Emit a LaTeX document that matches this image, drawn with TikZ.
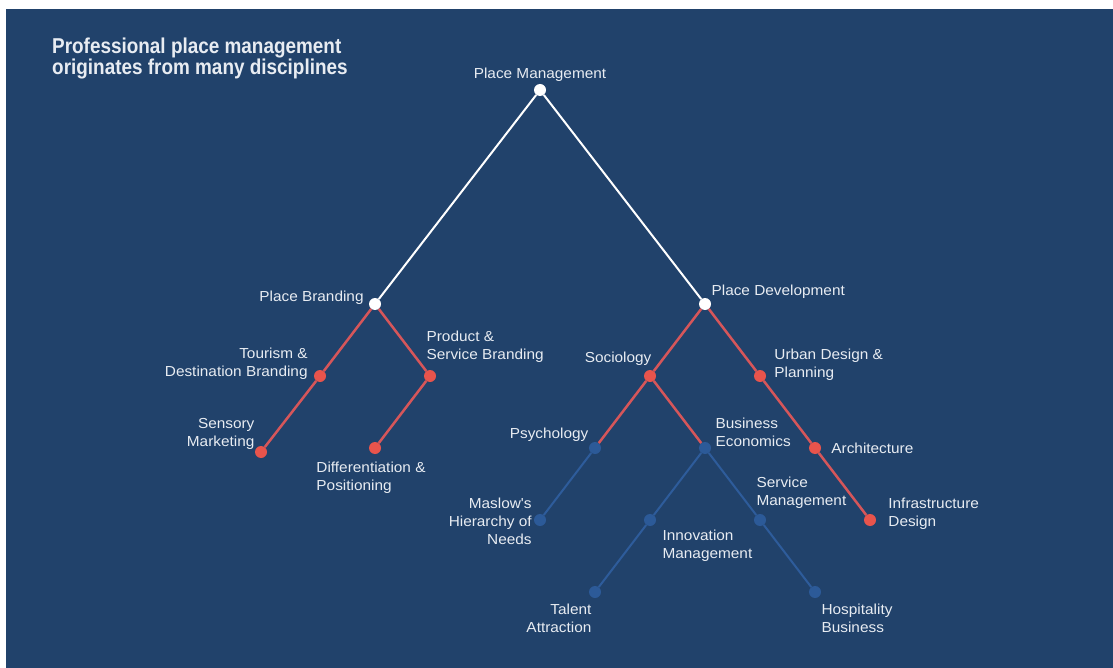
\documentclass[tikz,border=0pt]{standalone}
\usepackage{fontspec}
\usepackage{tikz}
\usetikzlibrary{positioning}
\setmainfont{Liberation Sans}
\newfontfamily\titlefont[FakeStretch=0.88]{Liberation Sans}
\newfontfamily\lblfont[FakeStretch=1.06]{Liberation Sans}
\definecolor{bgblue}{RGB}{33,66,107}
\definecolor{dotred}{RGB}{232,84,76}
\definecolor{linered}{RGB}{214,86,90}
\definecolor{dotblue}{RGB}{44,90,152}
\definecolor{lineblue}{RGB}{46,92,155}
\definecolor{labeltext}{RGB}{232,236,242}

\begin{document}
\begin{tikzpicture}[x=1pt,y=-1pt,on grid,node distance=72pt and 55pt,
		whitenode/.style={circle,fill=white,inner sep=0pt,minimum size=12pt},
		rednode/.style={circle,fill=dotred,inner sep=0pt,minimum size=12pt},
		bluenode/.style={circle,fill=dotblue,inner sep=0pt,minimum size=12pt},
		lbl/.style={text=labeltext,font=\lblfont\fontsize{14.5}{18}\selectfont,inner sep=2pt},
		whiteline/.style={draw=white,line width=2pt},
		redline/.style={draw=linered,line width=2.5pt},
		blueline/.style={draw=lineblue,line width=2pt}]
		\useasboundingbox (0,0) rectangle (1113,668);
		\fill[white] (0,0) rectangle (1113,668);
		\fill[bgblue] (6,9) rectangle (1113,668);

		\node[anchor=north west,text=labeltext,font=\titlefont\bfseries\fontsize{21.5}{21}\selectfont,align=left,inner sep=0pt] (title) at (52,38) {Professional place management\\originates from many disciplines};

		\node[whitenode,label={[lbl]90:Place Management}]										(pm)		at (540,90) {};
		\node[whitenode,below left=214pt and 165pt of pm,label={[lbl,xshift=-3pt,yshift=6pt]180:Place Branding}]	(pb)		{};
		\node[whitenode,below right=214pt and 165pt of pm,label={[lbl,yshift=-1pt]above right:Place Development}]	(pd)		{};

		\node[rednode,below left=of pb,label={[lbl,align=right,xshift=-4pt,yshift=12pt]180:Tourism \&\\Destination Branding}]	(tourism)	{};
		\node[rednode,below left=76pt and 59pt of tourism,label={[lbl,align=right,yshift=-4pt]above left:Sensory\\Marketing}]	(sensory)	{};
		\node[rednode,below right=of pb,label={[lbl,align=left,xshift=-10pt,yshift=7pt]above right:Product \&\\Service Branding}]	(product)	{};
		\node[rednode,below left=of product,label={[lbl,align=left,xshift=-4pt,yshift=-6pt]below:Differentiation \&\\Positioning}]	(diff)		{};

		\node[rednode,below left=of pd,label={[lbl,xshift=8pt,yshift=4pt]above left:Sociology}]				(sociology)	{};
		\node[rednode,below right=of pd,label={[lbl,align=left,xshift=6pt,yshift=11pt]0:Urban Design \&\\Planning}]	(urban)		{};
		\node[rednode,below right=of urban,label={[lbl,xshift=8pt]0:Architecture}]						(arch)		{};
		\node[rednode,below right=of arch,label={[lbl,align=left,xshift=10pt,yshift=6pt]0:Infrastructure\\Design}]	(infra)		{};

		\node[bluenode,below left=of sociology,label={[lbl]above left:Psychology}]						(psych)		{};
		\node[bluenode,below right=of sociology,label={[lbl,align=left,xshift=4pt,yshift=-5pt]above right:Business\\Economics}]	(buseco)	{};
		\node[bluenode,below left=of psych,label={[lbl,align=right,yshift=-1pt]180:Maslow's\\Hierarchy of\\Needs}]	(maslow)	{};
		\node[bluenode,below left=of buseco,label={[lbl,align=left,xshift=6pt,yshift=-3pt]below right:Innovation\\Management}]	(innov)		{};
		\node[bluenode,below right=of buseco,label={[lbl,align=left,xshift=-10pt,yshift=5pt]above right:Service\\Management}]	(service)	{};
		\node[bluenode,below left=of innov,label={[lbl,align=right,xshift=3pt,yshift=-5pt]below left:Talent\\Attraction}]	(talent)	{};
		\node[bluenode,below right=of service,label={[lbl,align=left,yshift=-5pt]below right:Hospitality\\Business}]	(hosp)		{};

		\draw[whiteline] (pm) -- (pb);
		\draw[whiteline] (pm) -- (pd);
		\draw[redline] (pb) -- (tourism);
		\draw[redline] (tourism) -- (sensory);
		\draw[redline] (pb) -- (product);
		\draw[redline] (product) -- (diff);
		\draw[redline] (pd) -- (sociology);
		\draw[redline] (pd) -- (urban);
		\draw[redline] (urban) -- (arch);
		\draw[redline] (arch) -- (infra);
		\draw[redline] (sociology) -- (psych);
		\draw[redline] (sociology) -- (buseco);
		\draw[blueline] (psych) -- (maslow);
		\draw[blueline] (buseco) -- (innov);
		\draw[blueline] (innov) -- (talent);
		\draw[blueline] (buseco) -- (service);
		\draw[blueline] (service) -- (hosp);
	\end{tikzpicture}
\end{document}
